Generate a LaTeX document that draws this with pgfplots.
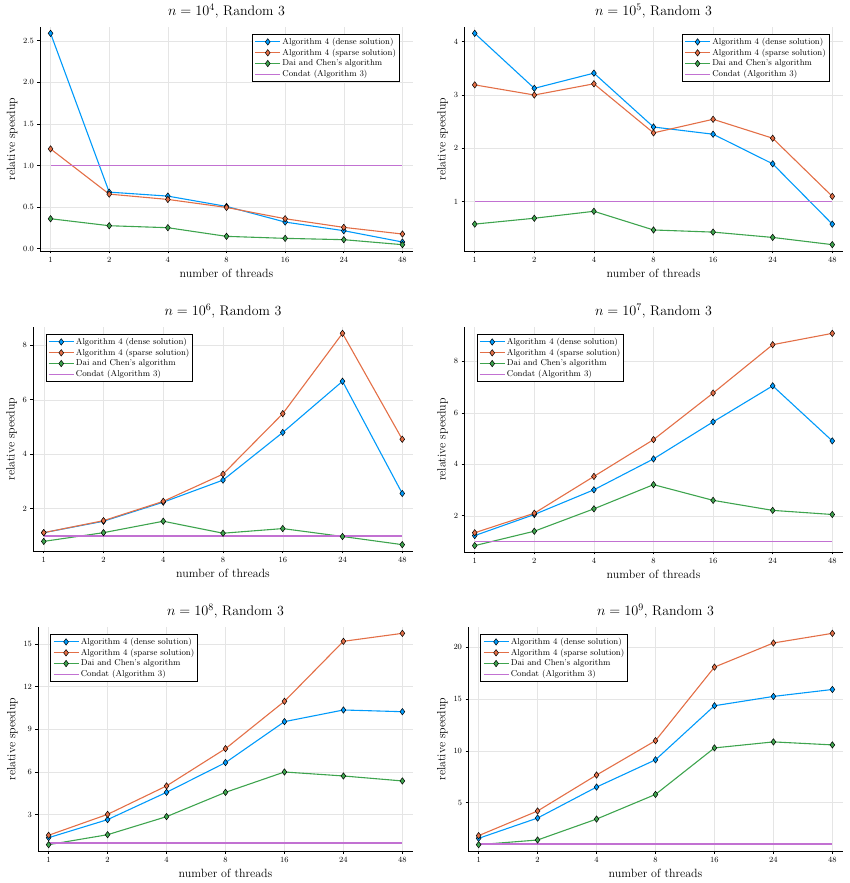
\documentclass[border=0pt]{standalone}
\usepackage{pgfplots}
\usepackage{pgfplotstable}
\pgfplotsset{compat=1.18}
\definecolor{jblue}{RGB}{0,154,250}
\definecolor{jorange}{RGB}{227,111,71}
\definecolor{jgreen}{RGB}{62,164,78}
\definecolor{jpurple}{RGB}{194,113,210}

\pgfplotstableread{
x d s g
0 2.59 1.20 0.36
1 0.68 0.656 0.276
2 0.632 0.592 0.252
3 0.508 0.496 0.148
4 0.32 0.36 0.124
5 0.216 0.256 0.108
6 0.08 0.176 0.048
}\tA
\pgfplotstableread{
x d s g
0 4.156 3.19 0.58
1 3.125 3.00 0.69
2 3.41 3.21 0.82
3 2.40 2.29 0.47
4 2.265 2.545 0.43
5 1.71 2.19 0.33
6 0.58 1.10 0.195
}\tB
\pgfplotstableread{
x d s g
0 1.12 1.12 0.80
1 1.54 1.56 1.12
2 2.24 2.27 1.54
3 3.05 3.27 1.10
4 4.80 5.49 1.27
5 6.68 8.44 0.98
6 2.56 4.55 0.68
}\tC
\pgfplotstableread{
x d s g
0 1.23 1.34 0.84
1 2.05 2.10 1.40
2 3.01 3.53 2.27
3 4.21 4.96 3.21
4 5.65 6.77 2.60
5 7.05 8.65 2.21
6 4.91 9.09 2.05
}\tD
\pgfplotstableread{
x d s g
0 1.38 1.55 0.89
1 2.65 3.02 1.59
2 4.57 5.02 2.86
3 6.66 7.64 4.57
4 9.54 10.97 6.00
5 10.36 15.19 5.72
6 10.24 15.75 5.37
}\tE
\pgfplotstableread{
x d s g
0 1.56 1.82 0.95
1 3.52 4.20 1.40
2 6.51 7.67 3.42
3 9.14 10.99 5.80
4 14.36 18.09 10.29
5 15.26 20.42 10.87
6 15.93 21.35 10.58
}\tF

\pgfplotsset{
  jl/.style={
    scale only axis, anchor=south west,
    axis lines=left, axis line style={-, black, line width=0.8bp},
    xmin=-0.18, xmax=6.18,
    xtick={0,...,6}, xticklabels={1,2,4,8,16,24,48},
    grid=major, grid style={black!10, line width=0.5bp},
    tick align=outside, major tick length=2.5bp,
    tick style={black, line width=0.6bp},
    ticklabel style={font=\fontsize{8}{9}\selectfont},
    label style={font=\fontsize{12}{14}\selectfont},
    title style={font=\fontsize{14}{16}\selectfont, yshift=-1bp},
    xlabel={number of threads}, ylabel={relative speedup},
    ylabel style={yshift=-1bp},
    legend cell align=left,
    legend style={draw=black, line width=1bp, fill=white,
      font=\fontsize{8.6}{9.5}\selectfont, inner sep=2bp,
      nodes={inner sep=1.5bp}, row sep=0pt},
    legend image code/.code={\draw[mark repeat=2,mark phase=2,##1] plot coordinates {(0bp,0bp)(12.5bp,0bp)(25bp,0bp)};},
  },
  sd/.style={color=jblue, line width=1.1bp, mark=diamond*, mark size=3.2bp, mark options={draw=black, fill=jblue, line width=0.5bp, solid}},
  ss/.style={color=jorange, line width=1.1bp, mark=diamond*, mark size=3.2bp, mark options={draw=black, fill=jorange, line width=0.5bp, solid}},
  sg/.style={color=jgreen, line width=1.1bp, mark=diamond*, mark size=3.2bp, mark options={draw=black, fill=jgreen, line width=0.5bp, solid}},
  sc/.style={draw=jpurple, color=jpurple, line width=1.4bp, solid, no marks},
  legTR/.style={legend style={at={(0.965,0.969)}, anchor=north east}},
  legTL/.style={legend style={at={(0.033,0.969)}, anchor=north west}},
}

\newcommand{\series}[1]{%
  \addplot[sd] table[x=x,y=d] {#1};
  \addplot[ss] table[x=x,y=s] {#1};
  \addplot[sg] table[x=x,y=g] {#1};
  \addplot[sc] coordinates {(0,1) (6,1)};
  \legend{Algorithm 4 (dense solution), Algorithm 4 (sparse solution), Dai and Chen's algorithm, Condat (Algorithm 3)}
}

\begin{document}
\begin{tikzpicture}
\useasboundingbox (0,0) rectangle (850bp,883bp);

\begin{axis}[jl, legTR, at={(40bp,632bp)}, width=373bp, height=224bp,
  title={$n = 10^{4}$, Random 3},
  ymin=-0.028, ymax=2.666, ytick={0,0.5,1,1.5,2,2.5},
  yticklabel style={/pgf/number format/.cd, fixed, fixed zerofill, precision=1}]
\series{\tA}
\end{axis}

\begin{axis}[jl, legTR, at={(464bp,632bp)}, width=379bp, height=224bp,
  title={$n = 10^{5}$, Random 3},
  ymin=0.076, ymax=4.275, ytick={1,2,3,4}]
\series{\tB}
\end{axis}

\begin{axis}[jl, legTL, at={(33bp,332bp)}, width=380bp, height=224bp,
  title={$n = 10^{6}$, Random 3},
  ymin=0.447, ymax=8.673, ytick={2,4,6,8}]
\series{\tC}
\end{axis}

\begin{axis}[jl, legTL, at={(464bp,331bp)}, width=379bp, height=225bp,
  title={$n = 10^{7}$, Random 3},
  ymin=0.5925, ymax=9.3375, ytick={2,4,6,8}]
\series{\tD}
\end{axis}

\begin{axis}[jl, legTL, at={(38bp,32bp)}, width=375bp, height=224bp,
  title={$n = 10^{8}$, Random 3},
  ymin=0.444, ymax=16.196, ytick={3,6,9,12,15}]
\series{\tE}
\end{axis}

\begin{axis}[jl, legTL, at={(468bp,32bp)}, width=375bp, height=224bp,
  title={$n = 10^{9}$, Random 3},
  ymin=0.338, ymax=21.962, ytick={5,10,15,20}]
\series{\tF}
\end{axis}

\end{tikzpicture}
\end{document}
